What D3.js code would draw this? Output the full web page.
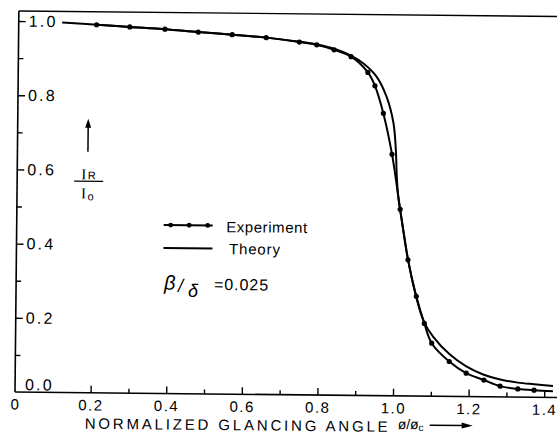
<!DOCTYPE html>
<html><head><meta charset="utf-8">
<script src="https://cdn.jsdelivr.net/npm/d3@7"></script>
<style>
html,body{margin:0;padding:0;background:#fff;}
svg{display:block;}
text{font-family:"Liberation Sans",Arial,sans-serif;fill:#000;}
</style></head><body>
<svg id="chart" width="557" height="434"></svg>
<script>
// ---- data ----
const expX = [0.206,0.294,0.387,0.475,0.565,0.655,0.743,0.789,0.835,0.880,0.925,0.944,0.967,0.991,1.014,1.036,1.059,1.081,1.101,1.148,1.193,1.240,1.283,1.330,1.373];
const expY = [0.992,0.987,0.982,0.975,0.969,0.962,0.951,0.944,0.931,0.913,0.871,0.835,0.761,0.651,0.503,0.367,0.269,0.196,0.143,0.094,0.063,0.045,0.029,0.022,0.019];
const expTailX = [1.423];
const expTailY = [0.017];
const theoryX = [0.115,0.207,0.294,0.387,0.475,0.565,0.655,0.743,0.789,0.835,0.877,0.913,0.948,0.975,0.994,1.001,1.004,1.008,1.014,1.025,1.036,1.058,1.080,1.105,1.148,1.192,1.238,1.283,1.330,1.373,1.423];
const theoryY = [0.997,0.992,0.987,0.982,0.975,0.969,0.962,0.952,0.945,0.934,0.917,0.895,0.860,0.806,0.735,0.663,0.595,0.542,0.501,0.434,0.369,0.270,0.200,0.160,0.114,0.082,0.060,0.047,0.039,0.035,0.031];
const xMajorTicks = [0,0.2,0.4,0.6,0.8,1.0,1.2,1.4];
const xTickLabels = ["0","0.2","0.4","0.6","0.8","1.0","1.2","1.4"];
const xMinorTicks = [0.3,0.5,0.7,0.9,1.1,1.3];
const yMajorTicks = [0,0.2,0.4,0.6,0.8,1.0];
const yTickLabels = ["0.0","0.2","0.4","0.6","0.8","1.0"];
const yMinorTicks = [0.1,0.3,0.5,0.7,0.9];
const legendLabels = ["Experiment","Theory"];
const xTitle = "NORMALIZED GLANCING ANGLE";
const ratioValue = "=0.025";

// ---- layout ----
const svg = d3.select("#chart");
const g = svg.append("g").attr("transform","rotate(0.58,15,392)");
const x = d3.scaleLinear().domain([0,1.4]).range([15,544.2]);
const y = d3.scaleLinear().domain([0,1]).range([392,21]);

// frame lines
g.append("line").attr("x1",15).attr("x2",575).attr("y1",y(0)).attr("y2",y(0)).attr("stroke","#000").attr("stroke-width",1.6);
g.append("line").attr("x1",15).attr("x2",15).attr("y1",11).attr("y2",y(0)).attr("stroke","#000").attr("stroke-width",1.6);
g.append("line").attr("x1",15).attr("x2",575).attr("y1",11).attr("y2",11).attr("stroke","#000").attr("stroke-width",1.4);

// x axis ticks
const xAx = g.append("g").attr("transform",`translate(0,${y(0)})`)
  .call(d3.axisBottom(x).tickValues(xMajorTicks).tickSize(-7).tickPadding(7)
    .tickFormat((d,i)=>xTickLabels[i]));
xAx.select(".domain").remove();
xAx.selectAll("line").attr("stroke","#000").attr("stroke-width",1.4);
xAx.selectAll("text").attr("font-size",15).attr("letter-spacing",1.5)
  .attr("font-family","Liberation Sans, Arial, sans-serif");
xAx.selectAll(".tick").filter(d=>d===0).select("line").remove();
const xMin = g.append("g").attr("transform",`translate(0,${y(0)})`)
  .call(d3.axisBottom(x).tickValues(xMinorTicks).tickSize(-4.5).tickFormat(""));
xMin.select(".domain").remove();
xMin.selectAll("line").attr("stroke","#000").attr("stroke-width",1.4);

// y axis ticks (inside)
const yAx = g.append("g").attr("transform",`translate(15,0)`)
  .call(d3.axisRight(y).tickValues(yMajorTicks).tickSize(7).tickPadding(3)
    .tickFormat((d,i)=>yTickLabels[i]));
yAx.select(".domain").remove();
yAx.selectAll("line").attr("stroke","#000").attr("stroke-width",1.4);
yAx.selectAll("text").attr("font-size",16).attr("letter-spacing",2.2)
  .attr("font-family","Liberation Sans, Arial, sans-serif");
yAx.selectAll(".tick").filter(d=>d===0).select("line").remove();
yAx.selectAll(".tick").filter(d=>d===0).select("text").attr("dy","-0.15em");
const yMin = g.append("g").attr("transform",`translate(15,0)`)
  .call(d3.axisRight(y).tickValues(yMinorTicks).tickSize(5).tickFormat(""));
yMin.select(".domain").remove();
yMin.selectAll("line").attr("stroke","#000").attr("stroke-width",1.4);

// curves
const line = d3.line().x(d=>x(d[0])).y(d=>y(d[1])).curve(d3.curveCatmullRom.alpha(0.5));
const theory = theoryX.map((v,i)=>[v,theoryY[i]]);
const exp = expX.map((v,i)=>[v,expY[i]]);
const expLine = exp.concat(expTailX.map((v,i)=>[v,expTailY[i]]));
g.append("path").attr("d",line(theory)).attr("fill","none").attr("stroke","#000").attr("stroke-width",2);
g.append("path").attr("d",line(expLine)).attr("fill","none").attr("stroke","#000").attr("stroke-width",2);
g.selectAll("circle.exp").data(exp).join("circle").attr("class","exp")
  .attr("cx",d=>x(d[0])).attr("cy",d=>y(d[1])).attr("r",2.6).attr("fill","#000");

// legend
const lg = g.append("g");
lg.append("line").attr("x1",162).attr("x2",211).attr("y1",223.5).attr("y2",223.5).attr("stroke","#000").attr("stroke-width",1.8);
[169,187.5,206].forEach(cx=>lg.append("circle").attr("cx",cx).attr("cy",223.5).attr("r",2.4).attr("fill","#000"));
lg.append("line").attr("x1",162).attr("x2",211).attr("y1",246.5).attr("y2",246.5).attr("stroke","#000").attr("stroke-width",1.8);
lg.append("text").attr("x",224.5).attr("y",230).attr("font-size",15).attr("textLength",81).attr("lengthAdjust","spacing").text(legendLabels[0]);
lg.append("text").attr("x",227.5).attr("y",252).attr("font-size",15).attr("textLength",51).attr("lengthAdjust","spacing").text(legendLabels[1]);
const gf = "DejaVu Serif, serif";
lg.append("text").attr("x",163).attr("y",288).attr("font-family",gf).attr("font-style","italic").attr("font-size",20).text("β");
lg.append("text").attr("x",177).attr("y",290).attr("font-family",gf).attr("font-style","italic").attr("font-size",18).text("/");
lg.append("text").attr("x",187).attr("y",295).attr("font-family",gf).attr("font-style","italic").attr("font-size",18).text("δ");
lg.append("text").attr("x",213).attr("y",288).attr("font-size",16).attr("textLength",54).attr("lengthAdjust","spacing").text(ratioValue);

// y title
const yt = g.append("g");
yt.append("line").attr("x1",85.5).attr("x2",85.5).attr("y1",151).attr("y2",124).attr("stroke","#000").attr("stroke-width",1.5);
yt.append("path").attr("d","M85.5,118 L82.5,127 L88.5,127 Z").attr("fill","#000");
const t1 = yt.append("text").attr("x",79).attr("y",178.5).attr("font-size",15);
t1.append("tspan").attr("font-family","Liberation Serif, serif").text("I");
t1.append("tspan").attr("font-size",11).attr("dx",1.5).text("R");
yt.append("line").attr("x1",72).attr("x2",101).attr("y1",180.5).attr("y2",180.5).attr("stroke","#000").attr("stroke-width",1.3);
const t2 = yt.append("text").attr("x",79).attr("y",197.5).attr("font-size",15);
t2.append("tspan").attr("font-family","Liberation Serif, serif").text("I");
t2.append("tspan").attr("font-size",11).attr("dx",1.5).attr("dy",2).text("o");

// x title
const xt = g.append("g");
xt.append("text").attr("x",85).attr("y",428).attr("font-size",15).attr("textLength",303).attr("lengthAdjust","spacing").text(xTitle);
const ph = xt.append("text").attr("x",398).attr("y",425).attr("font-size",14);
ph.append("tspan").text("ø/ø");
ph.append("tspan").attr("font-size",10).attr("dy",2).text("c");
xt.append("line").attr("x1",430).attr("x2",465).attr("y1",421).attr("y2",421).attr("stroke","#000").attr("stroke-width",1.4);
xt.append("path").attr("d","M473,421 L462,418 L462,424 Z").attr("fill","#000");
</script>
</body></html>
